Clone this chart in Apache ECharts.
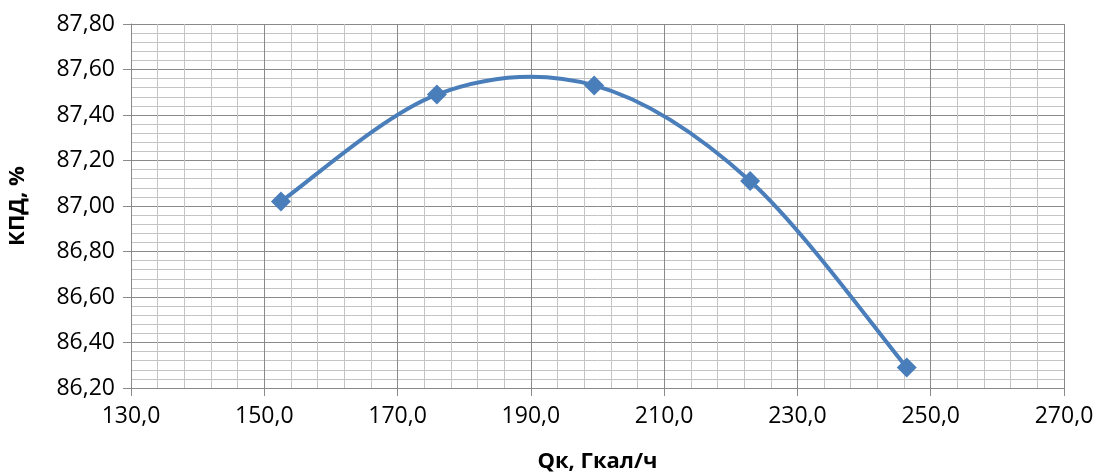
<!DOCTYPE html>
<html>
<head>
<meta charset="utf-8">
<script src="https://cdn.jsdelivr.net/npm/echarts@6/dist/echarts.min.js"></script>
<style>
  html, body { margin: 0; padding: 0; background: #fff; }
  #chart { width: 1098px; height: 473px; }
</style>
</head>
<body>
<div id="chart"></div>
<script>
// тепловая нагрузка котла, Гкал/ч
const qk = [152.5, 175.9, 199.5, 222.9, 246.4];
// КПД котла, %
const kpd = [87.02, 87.49, 87.53, 87.11, 86.29];

const xTitle = 'Qк, Гкал/ч';
const yTitle = 'КПД, %';

const font = '"Open Sans", "Noto Sans", sans-serif';
const majorColor = '#8a8a8a';
const minorColor = '#c4c4c4';
const lineColor = '#4a7ebb';

const points = qk.map((x, i) => [x, kpd[i]]);

// сглаженная линия как в Excel (Catmull-Rom -> Безье), по пиксельным координатам осей
function renderSmooth(params, api) {
  if (params.dataIndex !== 0) return null;
  const p = points.map(d => api.coord(d));
  const n = p.length;
  const path = [['M', p[0][0], p[0][1]]];
  for (let i = 0; i < n - 1; i++) {
    const p0 = p[Math.max(i - 1, 0)];
    const p1 = p[i];
    const p2 = p[i + 1];
    const p3 = p[Math.min(i + 2, n - 1)];
    const c1 = [p1[0] + (p2[0] - p0[0]) / 6, p1[1] + (p2[1] - p0[1]) / 6];
    const c2 = [p2[0] - (p3[0] - p1[0]) / 6, p2[1] - (p3[1] - p1[1]) / 6];
    path.push(['C', c1[0], c1[1], c2[0], c2[1], p2[0], p2[1]]);
  }
  const d = path.map(s => s[0] + s.slice(1).join(' ')).join(' ');
  return {
    type: 'path',
    shape: { pathData: d },
    style: { fill: 'none', stroke: lineColor, lineWidth: 4 }
  };
}

const chart = echarts.init(document.getElementById('chart'));

chart.setOption({
  animation: false,
  grid: { left: 131, right: 34, top: 24, bottom: 85, outerBoundsMode: 'none', containLabel: false },
  xAxis: {
    type: 'value',
    min: 130,
    max: 270,
    interval: 20,
    name: xTitle,
    nameLocation: 'middle',
    nameGap: 63,
    nameTextStyle: { fontFamily: font, fontSize: 22, fontWeight: 'bold', color: '#000' },
    axisLine: { show: true, lineStyle: { color: majorColor, width: 1 } },
    axisTick: { show: true, length: 8, lineStyle: { color: majorColor } },
    axisLabel: {
      fontFamily: font, fontSize: 23, color: '#000', margin: 17,
      formatter: v => v.toFixed(1).replace('.', ',')
    },
    splitLine: { show: true, lineStyle: { color: majorColor, width: 1 } },
    minorTick: { show: false, splitNumber: 5 },
    minorSplitLine: { show: true, lineStyle: { color: minorColor, width: 1 } }
  },
  yAxis: {
    type: 'value',
    min: 86.2,
    max: 87.8,
    interval: 0.2,
    name: yTitle,
    nameLocation: 'middle',
    nameRotate: 90,
    nameGap: 102,
    nameTextStyle: { fontFamily: font, fontSize: 22, fontWeight: 'bold', color: '#000' },
    axisLine: { show: true, lineStyle: { color: majorColor, width: 1 } },
    axisTick: { show: true, length: 8, lineStyle: { color: majorColor } },
    axisLabel: {
      fontFamily: font, fontSize: 23, color: '#000', margin: 16,
      formatter: v => v.toFixed(2).replace('.', ',')
    },
    splitLine: { show: true, lineStyle: { color: majorColor, width: 1 } },
    minorTick: { show: false, splitNumber: 5 },
    minorSplitLine: { show: true, lineStyle: { color: minorColor, width: 1 } }
  },
  series: [
    {
      type: 'custom',
      renderItem: renderSmooth,
      data: points,
      silent: true,
      z: 2
    },
    {
      type: 'scatter',
      data: points,
      symbol: 'diamond',
      symbolSize: 20,
      itemStyle: { color: lineColor, opacity: 1 },
      z: 3
    }
  ]
});
</script>
</body>
</html>
